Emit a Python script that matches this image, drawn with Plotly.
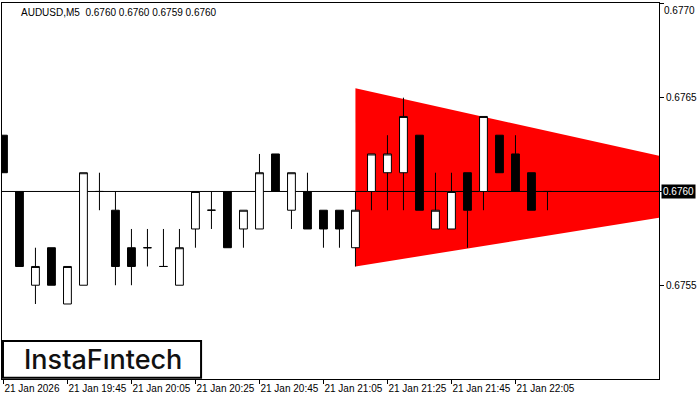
import plotly.graph_objects as go

# ---- data ----
idx = list(range(35))
opens  = [0.6763,0.6760,0.6755,0.6757,0.6754,0.6755,0.6760,0.6759,0.6757,0.6757,
          0.6756,0.6755,0.6758,0.6759,0.6760,0.6758,0.6758,0.6762,0.6759,0.6760,
          0.6759,0.6759,0.6757,0.6760,0.6761,0.6761,0.6763,0.6758,0.6758,0.6761,
          0.6760,0.6763,0.6762,0.6761,0.6760]
highs  = [0.6763,0.6760,0.6757,0.6757,0.6756,0.6761,0.6761,0.6760,0.6758,0.6758,
          0.6758,0.6758,0.6760,0.6760,0.6760,0.6759,0.6762,0.6762,0.6761,0.6761,
          0.6759,0.6759,0.6760,0.6762,0.6763,0.6765,0.6763,0.6761,0.6761,0.6761,
          0.6764,0.6763,0.6763,0.6761,0.6760]
lows   = [0.6761,0.6756,0.6754,0.6755,0.6754,0.6755,0.6759,0.6755,0.6755,0.6756,
          0.6756,0.6755,0.6757,0.6758,0.6757,0.6757,0.6758,0.6760,0.6758,0.6758,
          0.6757,0.6757,0.6756,0.6759,0.6759,0.6759,0.6759,0.6758,0.6758,0.6757,
          0.6759,0.6761,0.6760,0.6759,0.6759]
closes = [0.6761,0.6756,0.6756,0.6755,0.6756,0.6761,0.6760,0.6756,0.6756,0.6757,
          0.6756,0.6757,0.6760,0.6759,0.6757,0.6759,0.6761,0.6760,0.6761,0.6758,
          0.6758,0.6758,0.6759,0.6762,0.6762,0.6764,0.6759,0.6759,0.6760,0.6759,
          0.6764,0.6761,0.6760,0.6759,0.6760]

tick_idx = [0, 4, 8, 12, 16, 20, 24, 28, 32]
tick_labels = ["21 Jan 2026", "21 Jan 19:45", "21 Jan 20:05", "21 Jan 20:25",
               "21 Jan 20:45", "21 Jan 21:05", "21 Jan 21:25", "21 Jan 21:45",
               "21 Jan 22:05"]
price_ticks = [0.6755, 0.6760, 0.6765, 0.6770]
price_tick_labels = ["0.6755", "", "0.6765", ""]
top_price = 0.6770
top_price_label = "0.6770"

tri_x = [22, 41, 41, 22]
tri_y = [0.67655, 0.67619, 0.67586, 0.6756]

current_price = 0.6760
title_text = "AUDUSD,M5  0.6760 0.6760 0.6759 0.6760"
logo_text = "InstaFıntech"

# ---- figure ----
fig = go.Figure()
fig.add_trace(go.Candlestick(
    x=idx, open=opens, high=highs, low=lows, close=closes,
    increasing=dict(fillcolor="white", line=dict(color="black", width=1)),
    decreasing=dict(fillcolor="black", line=dict(color="black", width=1)),
    whiskerwidth=0, showlegend=False, hoverinfo="skip"))

tri_path = "M " + " L ".join(f"{x},{y}" for x, y in zip(tri_x, tri_y)) + " Z"
fig.add_shape(type="path", path=tri_path, xref="x", yref="y",
              fillcolor="#ff0000", line=dict(width=0), layer="below")
fig.add_shape(type="line", xref="x", yref="y", x0=-1, x1=42,
              y0=current_price, y1=current_price,
              line=dict(color="black", width=1), layer="below")

fig.update_layout(
    width=700, height=400,
    margin=dict(l=2, r=41, t=3, b=21),
    paper_bgcolor="white", plot_bgcolor="white",
    font=dict(family="Liberation Sans, Arial, sans-serif", size=10, color="black"),
    xaxis=dict(range=[-0.09, 40.97], tickvals=tick_idx, ticktext=tick_labels,
               ticks="outside", ticklen=4, tickcolor="black", tickangle=0,
               ticklabelposition="outside right", showgrid=False, zeroline=False,
               showline=True, linecolor="black", linewidth=1, mirror=True,
               automargin=False, rangeslider=dict(visible=False),
               tickfont=dict(size=10)),
    yaxis=dict(range=[0.6750, 0.677005], side="right", tickvals=price_ticks,
               ticktext=price_tick_labels, ticks="outside", ticklen=4,
               tickcolor="black", showgrid=False, zeroline=False,
               showline=True, linecolor="black", linewidth=1, mirror=True,
               automargin=False, tickfont=dict(size=10)),
    showlegend=False,
)

fig.add_annotation(xref="paper", yref="paper", x=0.026, y=0.995, xanchor="left",
                   yanchor="top", text=title_text, showarrow=False,
                   font=dict(size=10, color="black"))
fig.add_annotation(xref="paper", yref="y", x=1.006, y=top_price, xanchor="left",
                   yanchor="top", text=top_price_label, showarrow=False,
                   font=dict(size=10, color="black"), borderpad=0)
fig.add_annotation(xref="paper", yref="y", x=1.003, y=current_price, xanchor="left",
                   yanchor="middle", text="0.6760", showarrow=False,
                   bgcolor="black", font=dict(size=10, color="white"),
                   borderpad=1)
fig.add_shape(type="rect", xref="paper", yref="paper", x0=0.0015, x1=0.303,
              y0=0.003, y1=0.101, line=dict(color="black", width=2),
              fillcolor="white", layer="above")
fig.add_annotation(xref="paper", yref="paper", x=0.153, y=0.052, xanchor="center",
                   yanchor="middle", text=logo_text, showarrow=False,
                   font=dict(family="Inter, Open Sans, sans-serif", size=27,
                             color="#111111", weight=500))

fig.write_html("out.html", config={"displayModeBar": False},
               post_script="document.body.style.margin='0px';")
